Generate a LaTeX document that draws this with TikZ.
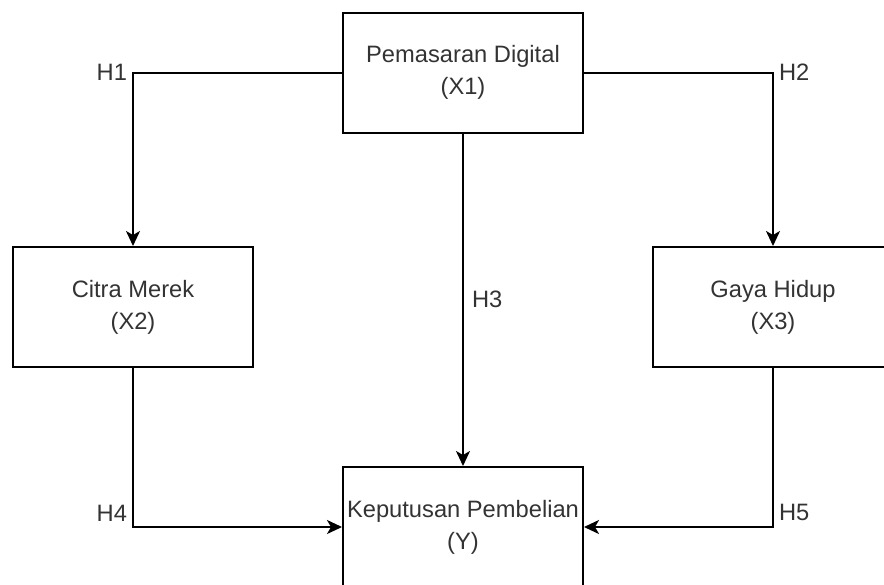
\documentclass[tikz,border=0pt]{standalone}
\usepackage{fontspec}
\setmainfont{Liberation Sans}
\usetikzlibrary{arrows.meta}
\definecolor{txt}{HTML}{333333}
\tikzset{
  box/.style={draw=black, line width=2pt, minimum width=240pt, minimum height=120pt,
    inner sep=0pt, align=center, text=txt, font=\fontsize{23.7}{32}\selectfont},
  conn/.style={draw=black, line width=2pt, -{Stealth[length=15pt,width=14pt,inset=4pt]}},
  hlab/.style={text=txt, font=\fontsize{23.7}{28}\selectfont, inner sep=5pt}
}
\begin{document}
\begin{tikzpicture}[x=1pt,y=-1pt]
\useasboundingbox (0,0) rectangle (884,584);
\begin{scope}
\clip (0,0) rectangle (884,584);
\node[box] (x1) at (463,72.5) {Pemasaran Digital\\(X1)};
\node[box] (x2) at (133,307) {Citra Merek\\(X2)};
\node[box] (x3) at (773,307) {Gaya Hidup\\(X3)};
\node[box] (y) at (463,527) {Keputusan Pembelian\\(Y)};
\draw[conn] (x1.west) -| node[pos=0.5, hlab, anchor=east] (h1) {H1} (x2.north);
\draw[conn] (x1.east) -| node[pos=0.5, hlab, anchor=west] (h2) {H2} (x3.north);
\draw[conn] (x1.south) -- node[pos=0.5, hlab, anchor=west, xshift=3pt] (h3) {H3} (y.north);
\draw[conn] (x2.south) |- node[pos=0.5, hlab, anchor=south east] (h4) {H4} (y.west);
\draw[conn] (x3.south) |- node[pos=0.5, hlab, anchor=south west] (h5) {H5} (y.east);
\end{scope}
\end{tikzpicture}
\end{document}
